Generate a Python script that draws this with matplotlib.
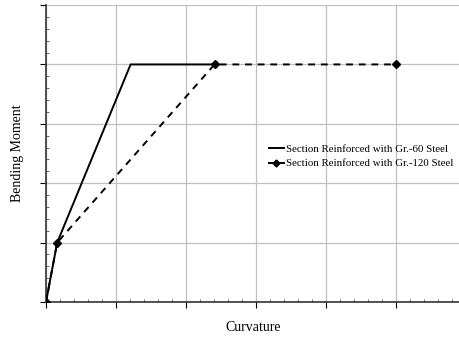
import numpy as np
import matplotlib.pyplot as plt
from matplotlib.ticker import MultipleLocator

# curvature / moment points (grid units)
gr60_x = [0, 0.16, 1.21, 2.41]
gr60_y = [0, 1, 4, 4]
gr120_x = [0, 0.16, 2.41, 5.0]
gr120_y = [0, 1, 4, 4]

plt.rcParams['font.family'] = ['Liberation Serif', 'DejaVu Serif']

fig = plt.figure(figsize=(4.6, 3.37), dpi=100)
ax = fig.add_axes([0.1, 0.104, 0.9, 0.881])

ax.plot(gr60_x, gr60_y, color='black', lw=1.4, label='Section Reinforced with Gr.-60 Steel', zorder=3)
ax.plot(gr120_x, gr120_y, color='black', lw=1.4, ls=(0, (3.5, 3)), marker='D', markersize=4,
        label='Section Reinforced with Gr.-120 Steel', zorder=4)

ax.set_xlim(0, 5.92)
ax.set_ylim(0, 5)
ax.xaxis.set_major_locator(MultipleLocator(1))
ax.xaxis.set_minor_locator(MultipleLocator(0.2))
ax.yaxis.set_major_locator(MultipleLocator(1))
ax.yaxis.set_minor_locator(MultipleLocator(0.2))
ax.grid(True, which='major', color='#c0c0c0', lw=0.9)
ax.set_axisbelow(True)
ax.tick_params(which='major', direction='out', length=4, width=0.8, labelbottom=False, labelleft=False)
ax.tick_params(which='minor', direction='in', length=2.5, width=0.6, color='#555555')

for s in ['top', 'right']:
    ax.spines[s].set_visible(False)
for s in ['left', 'bottom']:
    ax.spines[s].set_linewidth(1.2)
    ax.spines[s].set_color('#333333')

ax.set_xlabel('Curvature', fontsize=10, labelpad=10)
ax.set_ylabel('Bending Moment', fontsize=10, labelpad=12)

leg = ax.legend(loc='center left', bbox_to_anchor=(0.514, 0.49), frameon=False, fontsize=7.8,
                handlelength=1.4, handletextpad=0.2, labelspacing=0.45)
for h in leg.get_lines():
    h.set_linestyle('-')
    h.set_markersize(3.5)

fig.savefig('out.png', dpi=100)
